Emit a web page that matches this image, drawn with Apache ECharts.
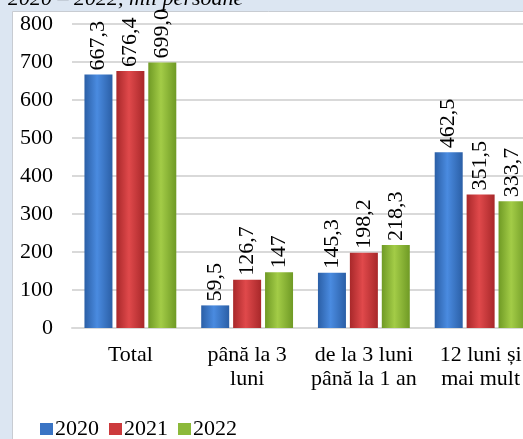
<!DOCTYPE html>
<html>
<head>
<meta charset="utf-8">
<script src="https://cdn.jsdelivr.net/npm/echarts@6/dist/echarts.min.js"></script>
<style>
  html, body { margin: 0; padding: 0; background: #dce6f2; }
  #chart { width: 523px; height: 439px; }
</style>
</head>
<body>
<div id="chart"></div>
<script>
// somaj pe durata, mii persoane
var categories = ['Total', 'până la 3\nluni', 'de la 3 luni\npână la 1 an', '12 luni și\nmai mult'];
var years = ['2020', '2021', '2022'];
var values2020 = [667.3, 59.5, 145.3, 462.5];
var values2021 = [676.4, 126.7, 198.2, 351.5];
var values2022 = [699.0, 147, 218.3, 333.7];
var yTicks = [0, 100, 200, 300, 400, 500, 600, 700, 800];

var serif = '"Liberation Serif", "DejaVu Serif", serif';

function shade(dark, light) {
    return new echarts.graphic.LinearGradient(0, 0, 1, 0, [
        { offset: 0, color: dark },
        { offset: 0.45, color: light },
        { offset: 1, color: dark }
    ]);
}

var palette = [
    shade('#2b5fa6', '#4a8be0'),
    shade('#a8282a', '#e0494b'),
    shade('#6f9a25', '#a3cc47')
];
var legendColors = ['#3a74c4', '#cc3a3c', '#8cb93a'];

function fmt(v) {
    return String(v).replace('.', ',');
}

function makeSeries(name, data, i) {
    return {
        name: name,
        type: 'bar',
        data: data,
        barWidth: 28,
        barGap: '14%',
        itemStyle: { color: palette[i] },
        label: {
            show: true,
            position: 'top',
            rotate: 90,
            align: 'left',
            verticalAlign: 'middle',
            distance: 4,
            fontFamily: serif,
            fontSize: 22,
            color: '#000',
            formatter: function (p) {
                return i === 2 && p.dataIndex === 0 ? '699,0' : fmt(p.value);
            }
        }
    };
}

var chart = echarts.init(document.getElementById('chart'));

var option = {
    backgroundColor: '#dce6f2',
    animation: false,
    graphic: [
        {
            type: 'rect',
            left: 12, top: 11,
            shape: { width: 520, height: 440 },
            style: { fill: '#fff', stroke: '#c8ccd2', lineWidth: 1 },
            z: -10
        },
        {
            type: 'text',
            left: 8, top: -12,
            style: {
                text: '2020 – 2022, mii persoane',
                font: 'italic 22px ' + serif,
                fill: '#000'
            }
        }
    ],
    legend: {
        data: years.map(function (y, i) {
            return { name: y, itemStyle: { color: legendColors[i] } };
        }),
        left: 35,
        top: 413,
        icon: 'rect',
        itemWidth: 13,
        itemHeight: 12,
        itemGap: 10,
        textStyle: { fontFamily: serif, fontSize: 22, color: '#000', padding: [0, 0, 0, -3] }
    },
    grid: {
        left: 72,
        top: 24,
        width: 467,
        height: 304,
        containLabel: false,
        outerBoundsMode: 'none'
    },
    xAxis: {
        type: 'category',
        data: categories,
        axisTick: { show: false },
        axisLine: { lineStyle: { color: '#d9d9d9', width: 2 } },
        axisLabel: {
            interval: 0,
            margin: 15,
            fontFamily: serif,
            fontSize: 22,
            lineHeight: 24,
            color: '#000'
        }
    },
    yAxis: {
        type: 'value',
        min: yTicks[0],
        max: yTicks[yTicks.length - 1],
        interval: 100,
        axisLine: { show: false },
        axisTick: { show: false },
        splitLine: { lineStyle: { color: '#d9d9d9', width: 2 } },
        axisLabel: {
            margin: 19,
            fontFamily: serif,
            fontSize: 22,
            color: '#000'
        }
    },
    series: [
        makeSeries(years[0], values2020, 0),
        makeSeries(years[1], values2021, 1),
        makeSeries(years[2], values2022, 2)
    ]
};

chart.setOption(option);
</script>
</body>
</html>
